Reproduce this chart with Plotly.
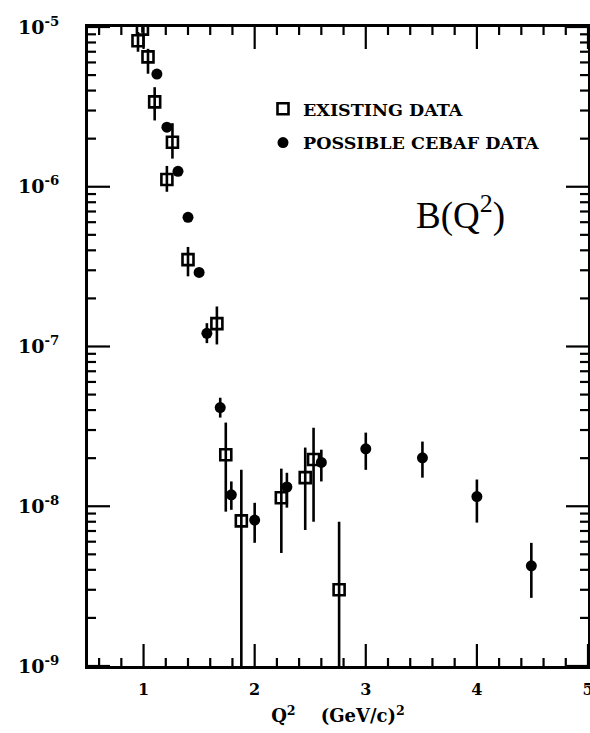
import plotly.graph_objects as go

# ---- data ----
exist_x  = [0.95, 0.99, 1.04, 1.10, 1.21, 1.26, 1.40, 1.66, 1.74, 1.88, 2.24, 2.455, 2.53, 2.76]
exist_y  = [8.2e-6, 9.7e-6, 6.5e-6, 3.4e-6, 1.11e-6, 1.9e-6, 3.5e-7, 1.39e-7, 2.1e-8, 8.1e-9, 1.13e-8, 1.51e-8, 1.96e-8, 3.0e-9]
exist_hi = [9.3e-6, 1.02e-5, 7.3e-6, 4.2e-6, 1.35e-6, 2.5e-6, 4.2e-7, 1.78e-7, 3.34e-8, 1.69e-8, 1.72e-8, 2.33e-8, 3.1e-8, 8.0e-9]
exist_lo = [7.0e-6, 9.2e-6, 5.1e-6, 2.6e-6, 9.3e-7, 1.5e-6, 2.75e-7, 1.03e-7, 9.25e-9, 1e-12, 5.1e-9, 7.1e-9, 8.0e-9, 1e-12]

cebaf_x  = [1.12, 1.21, 1.31, 1.40, 1.50, 1.57, 1.69, 1.79, 2.00, 2.29, 2.60, 3.00, 3.51, 4.00, 4.49]
cebaf_y  = [5.07e-6, 2.36e-6, 1.25e-6, 6.44e-7, 2.91e-7, 1.21e-7, 4.15e-8, 1.18e-8, 8.2e-9, 1.32e-8, 1.88e-8, 2.29e-8, 2.01e-8, 1.15e-8, 4.24e-9]
cebaf_hi = [5.3e-6, 2.5e-6, 1.32e-6, 6.8e-7, 3.1e-7, 1.4e-7, 4.78e-8, 1.43e-8, 1.05e-8, 1.62e-8, 2.26e-8, 2.89e-8, 2.54e-8, 1.47e-8, 5.9e-9]
cebaf_lo = [4.85e-6, 2.2e-6, 1.18e-6, 6.1e-7, 2.75e-7, 1.05e-7, 3.59e-8, 9.5e-9, 5.9e-9, 9.8e-9, 1.43e-8, 1.69e-8, 1.51e-8, 7.9e-9, 2.67e-9]

x_tick_vals = [1, 2, 3, 4, 5]
x_tick_text = ["1", "2", "3", "4", "5"]
x_minor_vals = [0.6, 0.8, 1.2, 1.4, 1.6, 1.8, 2.2, 2.4, 2.6, 2.8, 3.2, 3.4, 3.6, 3.8, 4.2, 4.4, 4.6, 4.8]
y_tick_vals = [1e-9, 1e-8, 1e-7, 1e-6, 1e-5]
y_tick_text = ["10<sup>-9</sup>", "10<sup>-8</sup>", "10<sup>-7</sup>", "10<sup>-6</sup>", "10<sup>-5</sup>"]
y_minor_mult = [2, 3, 4, 5, 6, 7, 8, 9]

# ---- figure ----
def errs(y, hi, lo):
    return [h - v for v, h in zip(y, hi)], [v - l for v, l in zip(y, lo)]

ep, em = errs(exist_y, exist_hi, exist_lo)
cp, cm = errs(cebaf_y, cebaf_hi, cebaf_lo)

fig = go.Figure()
fig.add_trace(go.Scatter(
    x=exist_x, y=exist_y, mode="markers", name="EXISTING DATA", legendgroup="a",
    marker=dict(symbol="square-open", size=11, color="black", line=dict(width=2.6, color="black")),
    error_y=dict(type="data", symmetric=False, array=ep, arrayminus=em,
                 color="black", thickness=2.6, width=0),
))
fig.add_trace(go.Scatter(
    x=cebaf_x, y=cebaf_y, mode="markers", name="POSSIBLE CEBAF DATA", legendgroup="b",
    marker=dict(symbol="circle", size=11, color="black"),
    error_y=dict(type="data", symmetric=False, array=cp, arrayminus=cm,
                 color="black", thickness=2.6, width=0),
))

# tick marks (drawn as pixel-sized shapes anchored at the tick values)
tick_style = dict(type="line", line=dict(color="black", width=2.2), layer="above")
shapes = []
y_minor_vals = [m * v for v in y_tick_vals[:-1] for m in y_minor_mult]
for vals, ln in ((x_tick_vals, 22), (x_minor_vals, 8)):
    for v in vals:
        shapes.append(dict(xref="x", x0=v, x1=v, yref="paper", ysizemode="pixel",
                           yanchor=0, y0=0, y1=ln, **tick_style))
        shapes.append(dict(xref="x", x0=v, x1=v, yref="paper", ysizemode="pixel",
                           yanchor=1, y0=0, y1=-ln, **tick_style))
for vals, ln in ((y_tick_vals, 22), (y_minor_vals, 8)):
    for v in vals:
        shapes.append(dict(yref="y", y0=v, y1=v, xref="paper", xsizemode="pixel",
                           xanchor=0, x0=0, x1=ln, **tick_style))
        shapes.append(dict(yref="y", y0=v, y1=v, xref="paper", xsizemode="pixel",
                           xanchor=1, x0=0, x1=-ln, **tick_style))

label_font = dict(family="DejaVu Serif", size=16, color="black", weight="bold")

fig.update_layout(
    width=590, height=733,
    margin=dict(l=88, r=2, t=27, b=67, autoexpand=False),
    paper_bgcolor="white", plot_bgcolor="white",
    showlegend=True,
    legend=dict(x=0.35, y=0.90, xanchor="left", yanchor="top",
                traceorder="grouped", tracegroupgap=8,
                bgcolor="rgba(0,0,0,0)", borderwidth=0,
                font=dict(family="DejaVu Serif", size=17.5, color="black", weight="bold")),
    annotations=[dict(x=0.744, y=0.709, xref="paper", yref="paper", xanchor="center", yanchor="middle",
                      text="B(Q<sup>2</sup>)", showarrow=False,
                      font=dict(family="Liberation Serif", size=37, color="black"))],
    shapes=shapes,
)
fig.update_xaxes(
    range=[0.5, 5], showgrid=False, zeroline=False, automargin=False,
    showline=True, linecolor="black", linewidth=3, mirror=True,
    ticks="", tickvals=x_tick_vals, ticktext=x_tick_text, tickfont=label_font,
    ticklabeloverflow="allow", ticklabelstandoff=7,
    title=dict(text="Q<sup>2</sup>    (GeV/c)<sup>2</sup>",
               font=dict(family="DejaVu Serif", size=18, color="black", weight="bold"), standoff=12),
)
fig.update_yaxes(
    type="log", range=[-9, -5], showgrid=False, zeroline=False, automargin=False,
    showline=True, linecolor="black", linewidth=3, mirror=True,
    ticks="", tickvals=y_tick_vals, ticktext=y_tick_text, tickfont=dict(label_font, size=19),
    ticklabelstandoff=22,
)

fig.write_html("out.html", config={"displayModeBar": False},
               post_script="document.body.style.margin='0';document.body.style.overflow='hidden';")
